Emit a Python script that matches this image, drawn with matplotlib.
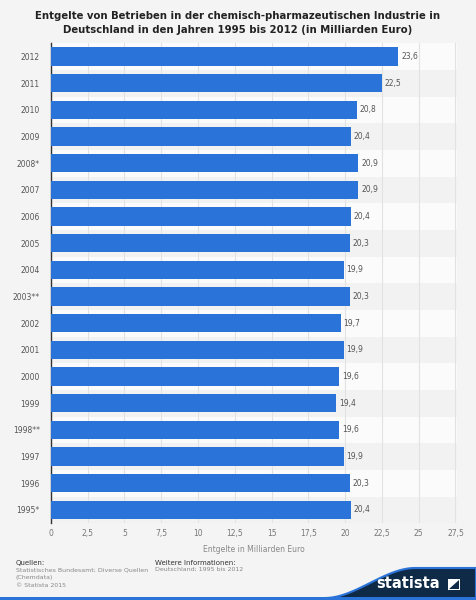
import numpy as np
import matplotlib.pyplot as plt
from matplotlib.patches import Polygon, Rectangle

# Daten (von oben nach unten)
years = ['2012', '2011', '2010', '2009', '2008*', '2007', '2006', '2005', '2004',
         '2003**', '2002', '2001', '2000', '1999', '1998**', '1997', '1996', '1995*']
values = [23.6, 22.5, 20.8, 20.4, 20.9, 20.9, 20.4, 20.3, 19.9,
          20.3, 19.7, 19.9, 19.6, 19.4, 19.6, 19.9, 20.3, 20.4]
xticks = [0, 2.5, 5, 7.5, 10, 12.5, 15, 17.5, 20, 22.5, 25, 27.5]

bar_color = '#2a74d9'
bg = '#f4f4f4'

fig = plt.figure(figsize=(4.76, 6.0), dpi=100)
fig.patch.set_facecolor(bg)
ax = fig.add_axes([0.107, 0.128, 0.853, 0.8])
ax.set_facecolor('#f8f8f8')

n = len(years)
ypos = np.arange(n)[::-1]
for i, y in enumerate(ypos):
    c = '#fbfbfb' if i % 2 == 0 else '#f2f2f2'
    ax.axhspan(y - 0.5, y + 0.5, color=c, zorder=0, lw=0)

ax.set_axisbelow(True)
ax.grid(axis='x', color='#e2e2e2', lw=0.8, zorder=1)
ax.barh(ypos, values, height=0.68, color=bar_color, zorder=3)

for y, v in zip(ypos, values):
    ax.text(v + 0.2, y, f'{v:.1f}'.replace('.', ','), va='center', ha='left',
            fontsize=5.5, color='#555555', zorder=4)

ax.set_xlim(0, 27.6)
ax.set_ylim(-0.5, n - 0.5)
ax.set_yticks(ypos)
ax.set_yticklabels(years, fontsize=5.5, color='#555555')
ax.set_xticks(xticks)
ax.set_xticklabels([f'{t:g}'.replace('.', ',') for t in xticks], fontsize=5.5, color='#777777')
ax.tick_params(length=0, pad=8)
ax.tick_params(axis='x', pad=4)
for s in ['top', 'right', 'bottom']:
    ax.spines[s].set_visible(False)
ax.spines['left'].set_color('#333333')
ax.spines['left'].set_linewidth(1.0)
ax.set_xlabel('Entgelte in Milliarden Euro', fontsize=5.5, color='#888888', labelpad=5)

fig.text(0.5, 0.982, 'Entgelte von Betrieben in der chemisch-pharmazeutischen Industrie in\n'
         'Deutschland in den Jahren 1995 bis 2012 (in Milliarden Euro)',
         ha='center', va='top', fontsize=7.3, fontweight='bold', color='#222222',
         linespacing=1.55)

# Fusszeile
fig.text(16 / 476, 1 - 563 / 600, 'Quellen:', fontsize=5, color='#333333', va='center')
fig.text(16 / 476, 1 - 567 / 600, 'Statistisches Bundesamt; Diverse Quellen\n(Chemdata)\n© Statista 2015',
         fontsize=4.5, color='#888888', va='top', linespacing=1.75)
fig.text(155 / 476, 1 - 563 / 600, 'Weitere Informationen:', fontsize=5, color='#333333', va='center')
fig.text(155 / 476, 1 - 567 / 600, 'Deutschland; 1995 bis 2012', fontsize=4.5, color='#888888', va='top')

# Logo-Bogen
xs = np.linspace(325, 476, 60)
t = np.clip((xs - 325) / 90, 0, 1)
ys = 598 - (598 - 568) * (3 * t ** 2 - 2 * t ** 3)
pts = [(x / 476, 1 - y / 600) for x, y in zip(xs, ys)] + [(1, 0), (325 / 476, 0)]
fig.patches.append(Polygon(pts, closed=True, transform=fig.transFigure,
                           facecolor='#0f2a47', edgecolor='#2a74d9', lw=1.5, zorder=1))
fig.patches.append(Rectangle((0, 0), 1, 3 / 600, transform=fig.transFigure,
                             facecolor='#2a74d9', lw=0, zorder=2))
fig.text(408 / 476, 1 - 584 / 600, 'statista', fontsize=10.5, fontweight='bold',
         color='white', ha='center', va='center', zorder=3)
fig.patches.append(Rectangle((448 / 476, 1 - 590 / 600), 12 / 476, 11 / 600,
                             transform=fig.transFigure, facecolor='white', lw=0, zorder=3))
fig.patches.append(Polygon([(449 / 476, 1 - 589 / 600), (459 / 476, 1 - 580 / 600),
                            (459 / 476, 1 - 589 / 600)], closed=True, transform=fig.transFigure,
                           facecolor='#0f2a47', lw=0, zorder=4))

fig.savefig('out.png', dpi=100, facecolor=bg)
